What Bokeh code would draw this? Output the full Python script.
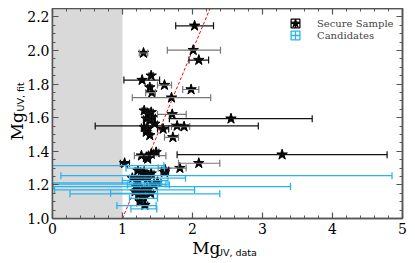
import numpy as np
from bokeh.plotting import figure
from bokeh.layouts import row, column
from bokeh.models import (ColumnDataSource, Whisker, TeeHead, BoxAnnotation,
                          FixedTicker, PrintfTickFormatter, LinearAxis, Range1d,
                          Legend, LegendItem)
from bokeh.core.properties import value
from bokeh.embed import file_html
from bokeh.resources import INLINE

# ---------------- data ----------------
# Secure sample: x (Mg_UV,data), y (Mg_UV,fit), lower/upper x error limits
sec_x = [2.03, 2.01, 1.30, 2.09, 1.41, 1.28, 1.60, 1.39, 1.98, 1.42, 1.70, 1.71,
         1.31, 1.36, 1.41, 1.34, 1.39, 1.43, 1.31, 1.36, 1.39, 1.46, 1.34,
         2.55, 1.78, 1.88, 1.58, 1.72,
         1.27, 1.34, 1.41, 1.48, 1.36, 3.28, 1.03, 2.09, 1.82, 1.61,
         1.22, 1.31, 1.41, 1.27, 1.36, 1.60, 1.22, 1.50,
         1.20, 1.28, 1.35, 1.23, 1.30, 1.40, 1.25, 1.32, 1.45, 1.18, 1.14]
sec_y = [2.147, 2.002, 1.985, 1.943, 1.850, 1.824, 1.794, 1.780, 1.768, 1.749, 1.719, 1.620,
         1.642, 1.622, 1.632, 1.594, 1.584, 1.602, 1.544, 1.534, 1.495, 1.563, 1.515,
         1.594, 1.551, 1.547, 1.533, 1.483,
         1.374, 1.364, 1.384, 1.394, 1.355, 1.380, 1.329, 1.329, 1.300, 1.289,
         1.285, 1.275, 1.267, 1.247, 1.236, 1.275, 1.226, 1.216,
         1.190, 1.170, 1.180, 1.140, 1.130, 1.150, 1.100, 1.080, 1.200, 1.160, 1.240]
sec_lo = [1.76, 1.64, 1.24, 1.95, 1.38, 1.02, 1.50, 1.36, 1.86, 1.33, 1.14, 1.50,
          1.28, 1.33, 1.38, 1.30, 1.35, 1.40, 1.27, 1.32, 1.36, 1.42, 1.30,
          1.67, 0.61, 1.70, 1.50, 1.60,
          1.17, 1.30, 1.37, 1.44, 1.32, 1.78, 0.97, 1.80, 1.51, 1.56,
          1.18, 1.27, 1.37, 1.23, 1.32, 1.55, 1.18, 1.45,
          1.16, 1.24, 1.31, 1.19, 1.26, 1.36, 1.21, 1.28, 1.41, 1.14, 1.10]
sec_hi = [2.30, 2.40, 1.36, 2.23, 1.44, 1.53, 1.70, 1.42, 2.09, 1.47, 2.26, 1.91,
          1.35, 1.40, 1.44, 1.38, 1.43, 1.47, 1.35, 1.40, 1.42, 1.50, 1.38,
          3.71, 2.94, 1.96, 1.66, 1.80,
          1.62, 1.38, 1.45, 1.52, 1.40, 4.78, 1.10, 2.39, 1.91, 1.66,
          1.26, 1.35, 1.45, 1.31, 1.40, 1.65, 1.26, 1.55,
          1.24, 1.32, 1.39, 1.27, 1.34, 1.44, 1.29, 1.36, 1.49, 1.22, 1.18]
# indices of secure points whose error bars are drawn in grey
sec_grey_ids = [1, 2, 6, 8, 9, 10, 11, 25, 27, 28, 35, 36]

# Candidates
cand_x = [1.10, 1.50, 1.25, 1.15, 1.10, 1.22, 1.30, 1.15, 1.20, 1.30, 1.25, 1.35, 1.10, 1.30, 1.20]
cand_y = [1.315, 1.255, 1.190, 1.205, 1.212, 1.170, 1.147, 1.150, 1.077, 1.057, 1.225, 1.240, 1.300, 1.120, 1.200]
cand_lo = [-0.40, 0.12, 0.01, -0.50, -0.30, 0.03, 0.25, 0.83, 0.92, 1.12, 1.00, 1.10, 1.05, 1.10, 1.07]
cand_hi = [1.59, 4.85, 3.40, 1.62, 1.55, 2.03, 2.39, 1.50, 1.48, 1.49, 1.65, 1.90, 1.60, 1.50, 1.67]

# reference 1:1 line and shaded region
one_to_one = [1.0, 2.3]
shade_lo, shade_hi = 0.0, 1.0

x_ticks = [0, 1, 2, 3, 4, 5]
y_ticks = [1.0, 1.2, 1.4, 1.6, 1.8, 2.0, 2.2]

x_title, x_sub = "Mg", "UV, data"
y_title, y_sub = "Mg", "UV, fit"
legend_labels = ["Secure Sample", "Candidates"]

CYAN = "#2bb3ee"
AXC = "#555555"

# ---------------- main figure ----------------
p = figure(frame_width=350, frame_height=210, x_range=Range1d(0, 5), y_range=Range1d(1.0, 2.25),
           output_backend="svg", toolbar_location=None,
           min_border_left=25, min_border_right=5, min_border_top=0, min_border_bottom=22)
p.xgrid.visible = False
p.ygrid.visible = False
p.outline_line_color = AXC
p.outline_line_width = 1.5
p.background_fill_color = "white"
p.border_fill_color = None

p.add_layout(BoxAnnotation(left=shade_lo, right=shade_hi, fill_color="#d9d9d9",
                           fill_alpha=1.0, line_color=None, level="underlay"))

def style_axis(ax, ticks, minor, fmt, show):
    ax.ticker = FixedTicker(ticks=ticks, minor_ticks=list(minor))
    ax.formatter = PrintfTickFormatter(format=fmt)
    ax.major_tick_in = 6
    ax.major_tick_out = 0
    ax.minor_tick_in = 3
    ax.minor_tick_out = 0
    ax.axis_line_color = AXC
    ax.axis_line_width = 1.5
    ax.major_tick_line_color = AXC
    ax.minor_tick_line_color = AXC
    ax.major_tick_line_width = 1.2
    ax.minor_tick_line_width = 1.0
    ax.major_label_text_font = "DejaVu Serif"
    ax.axis_label_standoff = 0
    if show:
        ax.major_label_text_color = "black"
        ax.major_label_text_font_size = "14px"
        ax.major_label_standoff = 4
    else:
        ax.major_label_text_color = None
        ax.major_label_text_font_size = "0px"
        ax.major_label_standoff = 0

x_minor = np.round(np.arange(0, 5.001, 0.2), 2)
y_minor = np.round(np.arange(1.0, 2.2501, 0.05), 3)

style_axis(p.xaxis[0], x_ticks, x_minor, "%d", True)
style_axis(p.yaxis[0], y_ticks, y_minor, "%.1f", True)
p.yaxis[0].major_label_standoff = 3
top_ax = LinearAxis()
right_ax = LinearAxis()
p.add_layout(top_ax, "above")
p.add_layout(right_ax, "right")
style_axis(top_ax, x_ticks, x_minor, "%d", False)
style_axis(right_ax, y_ticks, y_minor, "%.1f", False)

# 1:1 line
p.line(one_to_one, one_to_one, line_color="red", line_dash="3 2", line_width=1.0)

# secure error bars
grey_set = set(sec_grey_ids)
def subset(ids):
    return ColumnDataSource(dict(y=[sec_y[i] for i in ids],
                                 lo=[sec_lo[i] for i in ids],
                                 hi=[sec_hi[i] for i in ids]))
black_ids = [i for i in range(len(sec_x)) if i not in grey_set]
for ids, col in ((sec_grey_ids, "#777777"), (black_ids, "#111111")):
    w = Whisker(source=subset(ids), base="y", lower="lo", upper="hi", dimension="width",
                line_color=col, line_width=1.2, level="glyph",
                lower_head=TeeHead(size=7, line_color=col, line_width=1.2),
                upper_head=TeeHead(size=7, line_color=col, line_width=1.2))
    p.add_layout(w)

stars = p.scatter(sec_x, sec_y, marker="star", size=11, fill_color="black",
                  line_color="black")

cand_src = ColumnDataSource(dict(y=cand_y, lo=cand_lo, hi=cand_hi))
wc = Whisker(source=cand_src, base="y", lower="lo", upper="hi", dimension="width",
             line_color=CYAN, line_width=1.3, level="glyph",
             lower_head=TeeHead(size=7, line_color=CYAN, line_width=1.3),
             upper_head=TeeHead(size=7, line_color=CYAN, line_width=1.3))
p.add_layout(wc)

# error-bar style legend glyphs (zero-size in the plot itself)
sec_proxy = p.scatter(sec_x, sec_y, marker="square_cross", size=0, fill_color=None,
                      line_color="black", line_width=1.2)
cand_proxy = p.scatter(cand_x, cand_y, marker="square_cross", size=0, fill_color=None,
                       line_color=CYAN, line_width=1.3)

def one_legend(label, renderers, loc):
    return Legend(items=[LegendItem(label=label, renderers=renderers)],
                  location=loc, border_line_color=None, background_fill_alpha=0,
                  label_text_font="DejaVu Serif", label_text_font_size="10px",
                  glyph_width=22, glyph_height=22, label_height=12, spacing=0,
                  label_standoff=11, padding=0, margin=0)

p.add_layout(one_legend(legend_labels[0], [sec_proxy, stars], (232, 184)))
p.add_layout(one_legend(legend_labels[1], [cand_proxy], (232, 172)))

# ---------------- axis-title strips (transparent, slightly overlapping) ----------------
def title_strip(w, h, margin):
    f = figure(width=w, height=h, x_range=Range1d(0, w), y_range=Range1d(0, h),
               output_backend="svg", toolbar_location=None,
               x_axis_type=None, y_axis_type=None, min_border=0, margin=margin)
    f.outline_line_color = None
    f.xgrid.visible = False
    f.ygrid.visible = False
    f.background_fill_color = None
    f.border_fill_color = None
    return f

# x title below the main figure
xt = title_strip(380, 33, (-10, 0, 0, 0))
xt.text(x=[153], y=[16], text=[x_title], text_font=value("DejaVu Serif"),
        text_font_size="17px", text_baseline="alphabetic", text_align="left", text_color="black")
xt.text(x=[179], y=[11.5], text=[x_sub], text_font=value("DejaVu Sans"),
        text_font_size="9.5px", text_baseline="alphabetic", text_align="left", text_color="black")

# y title left of the main figure
yt = title_strip(34, 255, (0, -6, 0, -4))
yt.text(x=[20.5], y=[123], text=[y_title], text_font=value("DejaVu Serif"), angle=np.pi / 2,
        text_font_size="17px", text_baseline="alphabetic", text_align="left", text_color="black")
yt.text(x=[23.5], y=[152], text=[y_sub], text_font=value("DejaVu Sans"), angle=np.pi / 2,
        text_font_size="9.5px", text_baseline="alphabetic", text_align="left", text_color="black")

layout = row(yt, column(p, xt, spacing=0), spacing=0, margin=(8, 0, 0, 0))

open("out.html", "w").write(file_html(layout, INLINE))
